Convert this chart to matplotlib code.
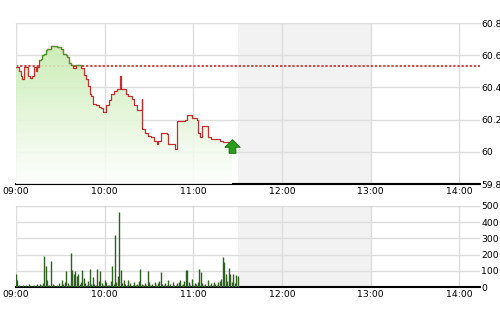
import matplotlib
matplotlib.use('Agg')
import matplotlib.pyplot as plt
import numpy as np
from matplotlib import font_manager
from matplotlib.path import Path
from matplotlib.colors import LinearSegmentedColormap

# --- data (minutes after 09:00) ---
ref_price = 60.535

t_price = [0.0, 2.0, 3.2, 4.3, 5.4, 7.2, 8.1, 9.5, 11.0, 12.2, 13.3, 14.4, 15.6,
           16.7, 17.8, 18.9, 20.1, 21.2, 23.4, 25.7, 28.0, 30.2, 32.0, 33.6,
           34.7, 35.8, 37.4, 38.8, 40.4, 42.6, 43.7, 46.0, 47.1, 48.7, 50.1,
           51.0, 51.9, 53.9, 56.1, 57.7, 59.1, 60.7, 62.9, 64.0, 66.3, 68.5,
           70.3, 71.2, 74.2, 76.0, 78.2, 80.0, 81.6, 83.9, 85.0, 85.4, 87.3,
           89.1, 91.3, 93.6, 95.1, 96.3, 98.1, 100.8, 101.9, 103.0, 105.3,
           107.5, 108.7, 112.1, 114.3, 115.4, 117.7, 118.8, 121.1, 122.2,
           123.3, 124.5, 126.0, 129.0, 130.1, 131.9, 135.7, 138.0, 140.3,
           142.5, 144.7, 146.5]
price = [60.53, 60.50, 60.47, 60.45, 60.53, 60.53, 60.47, 60.46, 60.47, 60.53,
         60.50, 60.53, 60.57, 60.58, 60.60, 60.61, 60.63, 60.64, 60.66, 60.66,
         60.65, 60.64, 60.61, 60.60, 60.59, 60.55, 60.54, 60.52, 60.54, 60.54,
         60.52, 60.48, 60.45, 60.41, 60.36, 60.35, 60.30, 60.29, 60.28, 60.27,
         60.25, 60.29, 60.32, 60.36, 60.38, 60.39, 60.47, 60.39, 60.36, 60.35,
         60.33, 60.29, 60.26, 60.26, 60.33, 60.14, 60.12, 60.10, 60.09, 60.07,
         60.05, 60.07, 60.12, 60.12, 60.11, 60.05, 60.05, 60.02, 60.19, 60.19,
         60.20, 60.23, 60.23, 60.21, 60.21, 60.20, 60.12, 60.09, 60.16, 60.16,
         60.09, 60.08, 60.08, 60.07, 60.06, 60.06, 60.04, 60.03]

volume = [78, 41, 12, 8, 5, 15, 6, 10, 4, 18, 7, 5, 12, 9, 16, 6, 20, 10, 25,
          191, 128, 45, 15, 8, 163, 20, 10, 6, 14, 22, 9, 45, 18, 30, 99, 25,
          12, 208, 103, 82, 99, 66, 78, 20, 30, 103, 58, 25, 15, 35, 113, 20,
          62, 18, 10, 109, 40, 99, 22, 12, 45, 28, 15, 10, 35, 128, 20, 323,
          30, 70, 465, 103, 25, 45, 18, 10, 45, 22, 8, 15, 30, 12, 20, 35, 109,
          18, 10, 25, 14, 99, 30, 12, 20, 8, 28, 15, 22, 35, 95, 18, 10, 25,
          12, 45, 20, 8, 30, 15, 10, 22, 28, 45, 12, 18, 35, 103, 103, 30, 15,
          51, 10, 25, 18, 30, 113, 93, 22, 12, 20, 8, 45, 15, 25, 10, 31, 20,
          12, 28, 35, 50, 185, 154, 82, 40, 119, 82, 30, 82, 25, 72, 66]
t_vol = np.arange(len(volume))

hour_ticks = [0, 60, 120, 180, 240, 300]
hour_labels = ['09:00', '10:00', '11:00', '12:00', '13:00', '14:00']
price_ticks = [59.8, 60.0, 60.2, 60.4, 60.6, 60.8]
price_labels = ['59.8', '60', '60.2', '60.4', '60.6', '60.8']
vol_ticks = [0, 100, 200, 300, 400, 500]

# --- fonts ---
names = [f.name for f in font_manager.fontManager.ttflist]
fam = 'Liberation Sans Narrow' if 'Liberation Sans Narrow' in names else 'DejaVu Sans'
plt.rcParams['font.family'] = [fam, 'DejaVu Sans']
fs = 6.7
grid_c = '#dddddd'
xmax = 314

fig = plt.figure(figsize=(5, 3.12), dpi=100)
ax1 = fig.add_axes([0.032, 0.410, 0.928, 0.516])
ax2 = fig.add_axes([0.032, 0.080, 0.928, 0.260])

def style(ax, yticks, ylabels, ylim):
    ax.set_xlim(0, xmax)
    ax.set_ylim(*ylim)
    ax.axvspan(150, 240, color='#f2f2f2', zorder=0, lw=0)
    ax.set_xticks(hour_ticks)
    ax.set_xticklabels(hour_labels, fontsize=fs)
    ax.set_yticks(yticks)
    ax.set_yticklabels(ylabels, fontsize=fs)
    ax.yaxis.tick_right()
    ax.tick_params(length=0, pad=2)
    ax.tick_params(axis='y', pad=1)
    ax.grid(True, color=grid_c, lw=1, zorder=1)
    ax.set_axisbelow(True)
    for s in ['left', 'top', 'right']:
        ax.spines[s].set_color(grid_c)
    ax.spines['right'].set_visible(False)
    ax.spines['bottom'].set_color('black')
    ax.spines['bottom'].set_linewidth(1.5)

style(ax1, price_ticks, price_labels, (59.8, 60.8))
style(ax2, vol_ticks, [str(v) for v in vol_ticks], (0, 500))

# price panel
tp = np.array(t_price)
pp = np.array(price)
ax1.axhline(ref_price, color='#cc1111', ls=(0, (1.5, 1.2)), lw=1.1, zorder=2)

fill = ax1.fill_between(tp, pp, 59.8, step='post', color='none', lw=0, zorder=3)
cmap = LinearSegmentedColormap.from_list('g', ['#ffffff', '#c4ebac'])
grad = np.linspace(0, 1, 256).reshape(-1, 1)
img = ax1.imshow(grad, extent=[0, xmax, 59.8, 60.7], origin='lower', aspect='auto',
                 cmap=cmap, alpha=0.9, zorder=3)
img.set_clip_path(fill.get_paths()[0], transform=ax1.transData)
ax1.set_xlim(0, xmax)
ax1.set_ylim(59.8, 60.8)

ax1.step(tp, pp, where='post', color='#c03030', lw=0.9, zorder=4)
up = np.ma.masked_where(pp < ref_price, pp)
ax1.step(tp, up, where='post', color='#4a9a30', lw=0.9, zorder=5)

arrow = Path([(-1, -0.1), (-0.45, -0.1), (-0.45, -0.9), (0.45, -0.9), (0.45, -0.1),
              (1, -0.1), (0, 0.9), (-1, -0.1)])
ax1.plot([tp[-1]], [pp[-1] + 0.005], marker=arrow, ms=11, color='#2c9c1c',
         mec='#1b6a10', mew=0.6, zorder=6, clip_on=False)

# volume panel
ax2.vlines(t_vol, 0, volume, color='#2f5f1f', lw=1.0, zorder=3)

fig.savefig('out.png', dpi=100)
